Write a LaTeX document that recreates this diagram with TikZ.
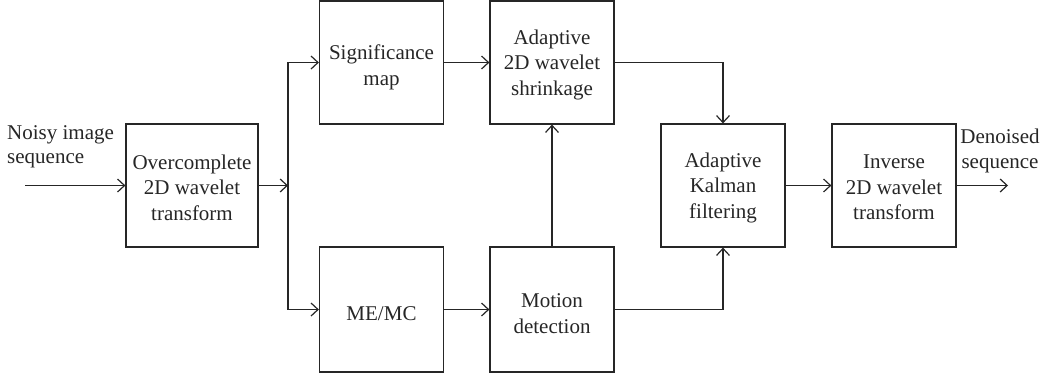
\documentclass[tikz,border=0pt]{standalone}
\usepackage{fontspec}
\setmainfont{Liberation Serif}
\usetikzlibrary{arrows.meta}
\tikzset{
  blk/.style={draw=black!85, line width=1.2pt, minimum width=124pt, minimum height=123pt, inner sep=0pt},
  txt/.style={align=center, font=\fontsize{21}{25.5}\selectfont, text=black!85, inner sep=0pt},
  lbl/.style={font=\fontsize{21}{24.5}\selectfont, text=black!85, inner sep=0pt},
  flow/.style={draw=black!85, line width=1.2pt, -{Straight Barb[length=7pt,width=13pt,line width=1.2pt]}}
}
\begin{document}
\begin{tikzpicture}[x=1pt,y=-1pt]
\useasboundingbox (0,0) rectangle (1052,376);
% processing blocks
\node[blk, minimum width=132pt] (oc)  at (192,185.5) {};
\node[blk] (sig) at (381.5,62.5)  {};
\node[blk] (shr) at (552,62.5)    {};
\node[blk, minimum height=125pt] (me)  at (381.5,309.5) {};
\node[blk, minimum height=125pt] (md)  at (552,309.5)   {};
\node[blk] (kal) at (723,185.5)   {};
\node[blk] (inv) at (894,185.5)   {};
% block captions, set slightly below the box centres
\node[txt] (oct)  at ([yshift=-2pt]oc.center)  {Overcomplete\\2D wavelet\\transform};
\node[txt] (sigt) at ([yshift=-5pt]sig.center) {Significance\\map};
\node[txt] (shrt) at ([yshift=-2pt]shr.center) {Adaptive\\2D wavelet\\shrinkage};
\node[txt] (met)  at ([yshift=-4pt]me.center)  {ME/MC};
\node[txt] (mdt)  at ([yshift=-4pt]md.center)  {Motion\\detection};
\node[txt] (kalt) at ([yshift=-2pt]kal.center) {Adaptive\\Kalman\\filtering};
\node[txt] (invt) at ([yshift=-2pt]inv.center) {Inverse\\2D wavelet\\transform};
% input / output labels
\node[lbl, align=left, anchor=west] (inlbl)  at (7,147) {Noisy image\\sequence};
\node[lbl, align=center] (outlbl) at (1000,151) {Denoised\\sequence};
\coordinate (src) at (25,185.5);
\coordinate (dst) at (1008,185.5);
\coordinate (split) at (288,185.5);
% connectors
\draw[flow] (src) -- (oc.west);
\draw[flow] (oc.east) -- (split);
\draw[flow] (split) |- (sig.west);
\draw[flow] (split) |- (me.west);
\draw[flow] (sig) -- (shr);
\draw[flow] (me) -- (md);
\draw[flow] (md) -- (shr);
\draw[flow] (shr.east) -| (kal.north);
\draw[flow] (md.east) -| (kal.south);
\draw[flow] (kal) -- (inv);
\draw[flow] (inv.east) -- (dst);
\end{tikzpicture}
\end{document}
